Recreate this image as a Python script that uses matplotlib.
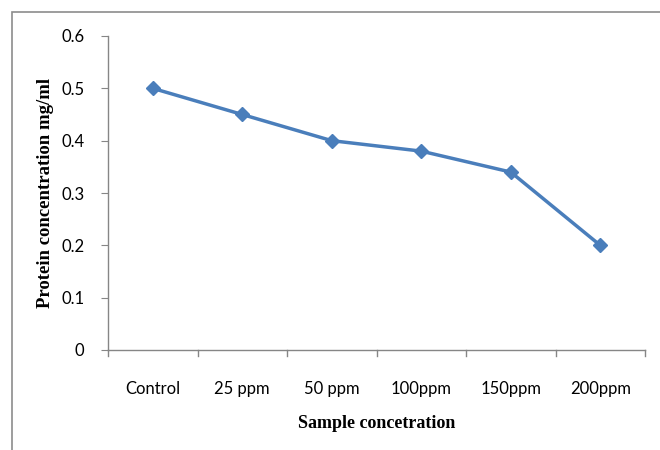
import matplotlib
matplotlib.use("Agg")
import matplotlib.pyplot as plt
from matplotlib.patches import Rectangle
from matplotlib.lines import Line2D

categories = ["Control", "25 ppm", "50 ppm", "100ppm", "150ppm", "200ppm"]
values = [0.50, 0.45, 0.40, 0.38, 0.34, 0.20]
yticks = [0, 0.1, 0.2, 0.3, 0.4, 0.5, 0.6]

fig = plt.figure(figsize=(6.6, 4.5), dpi=100)
fig.patches.append(Rectangle((12/660, -0.1), 1.0, (450-12)/450 + 0.1,
                             transform=fig.transFigure, fill=False,
                             edgecolor="#8c8c8c", linewidth=1.2))
ax = fig.add_axes([108/660, 100/450, (645-108)/660, (350-36)/450])

x = list(range(len(categories)))
ax.plot(x, values, color="#4a7ebb", linewidth=2.5, marker="D", markersize=7,
        markerfacecolor="#4a7ebb", markeredgecolor="#4a7ebb")

ax.set_xlim(-0.5, len(categories) - 0.5)
ax.set_ylim(0, 0.6)
ax.set_yticks(yticks)
ax.set_yticklabels(["0", "0.1", "0.2", "0.3", "0.4", "0.5", "0.6"],
                   family="Lato", fontsize=12)
ax.set_xticks(x)
ax.set_xticklabels(categories, family="Lato", fontsize=12)
ax.tick_params(axis="x", length=0, pad=22)
ax.tick_params(axis="y", length=5, color="#868686", pad=12, direction="out")
for b in [i - 0.5 for i in range(len(categories) + 1)]:
    ax.add_line(Line2D([b, b], [0, -0.02], transform=ax.get_xaxis_transform(),
                       color="#868686", linewidth=1, clip_on=False))

for s in ["top", "right"]:
    ax.spines[s].set_visible(False)
for s in ["left", "bottom"]:
    ax.spines[s].set_color("#868686")
    ax.spines[s].set_linewidth(1)

ax.set_xlabel("Sample concetration", family="Liberation Serif",
              fontweight="bold", fontsize=13, labelpad=13)
ylab = "Protein concentration mg/ml"
ax.set_ylabel(ylab, family="Liberation Serif",
              fontweight="bold", fontsize=13.5, labelpad=5)

fig.savefig("out.png", dpi=100)
